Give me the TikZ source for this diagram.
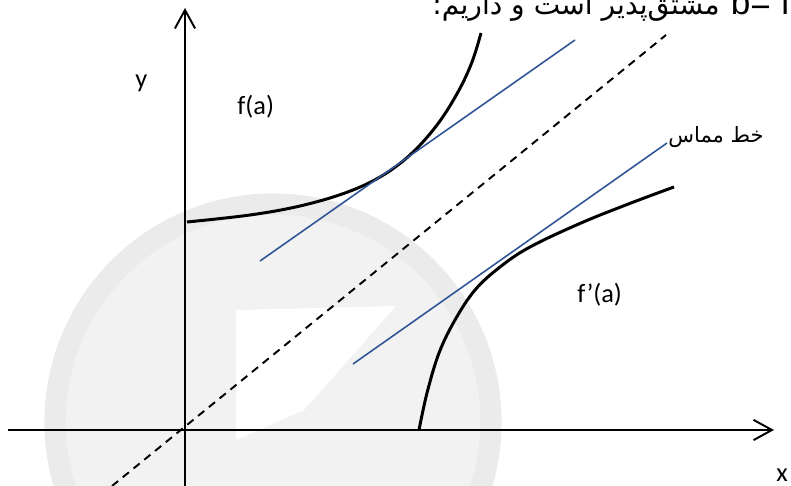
\documentclass[tikz,border=0pt]{standalone}
\usepackage{fontspec}
\setmainfont{Carlito}
\newfontfamily\arabicfont[Script=Arabic]{DejaVu Sans}
\newfontfamily\headfont{Liberation Sans}
\TeXXeTstate=1
\usetikzlibrary{arrows.meta,positioning}
\definecolor{tanblue}{RGB}{47,85,151}

\begin{document}
\begin{tikzpicture}[x=0.02cm, y=-0.02cm,
    axis/.style={line width=1.1pt, -{Straight Barb[length=10.5pt,width=11.5pt,line width=1.1pt]}},
    curve/.style={line width=1.7pt},
    tangent/.style={tanblue, line width=0.9pt},
    diag/.style={line width=1.1pt, dash pattern=on 4.5pt off 3.4pt},
    lbl/.style={inner sep=0pt, anchor=base west, font=\fontsize{15}{18}\selectfont}]
  \useasboundingbox (0,0) rectangle (791,486);
  % faint watermark
  \fill[black!5] (273,422) circle (228);
  \draw[black!8, line width=12pt] (273,422) circle (218);
  \fill[white] (236,310) -- (396,306) -- (304,410) -- (236,440) -- cycle;

  \coordinate (xl) at (8,430);
  \coordinate (xr) at (774,430);
  \coordinate (yb) at (185,490);
  \coordinate (yt) at (185,8);
  \coordinate (da) at (112,486);
  \coordinate (db) at (666,35);
  \coordinate (t1a) at (260,261);
  \coordinate (t1b) at (575,40);
  \coordinate (t2a) at (353,364);
  \coordinate (t2b) at (667,143);

  \draw[axis] (xl) -- (xr);
  \draw[axis] (yb) -- (yt);
  \draw[diag] (da) -- (db);

  % the two curves
  \draw[curve] plot[smooth, tension=0.6] coordinates {(187,222) (250,215) (300,206) (345,193) (380,177) (410,155) (437,125) (458,92) (472,62) (481,33)};
  \draw[curve] plot[smooth, tension=0.6] coordinates {(419,430) (427,393) (439,353) (455,320) (475,290) (500,267) (530,247) (581,223) (631,203) (674,187)};

  \draw[tangent] (t1a) -- (t1b);
  \draw[tangent] (t2a) -- (t2b);

  \node[lbl] (ylab)  at (135,88)  {y};
  \node[lbl] (xlab)  at (776,481) {x};
  \node[lbl] (fa)    at (237,115) {f(a)};
  \node[lbl] (fpa)   at (577,302) {f’(a)};
  \node[lbl, font={\fontsize{12}{14}\arabicfont}] (tlab) at (668,143) {\beginR خط مماس\endR};

  \node[inner sep=0pt, anchor=base east, font={\fontsize{16}{19}\arabicfont}] (head) at (720,15) {\beginR مشتق‌پذیر است  و داریم:\endR};
  \node[inner sep=0pt, font={\fontsize{20}{24}\headfont}, base right=6pt of head.base east] (headb) {b= f};
\end{tikzpicture}
\end{document}
